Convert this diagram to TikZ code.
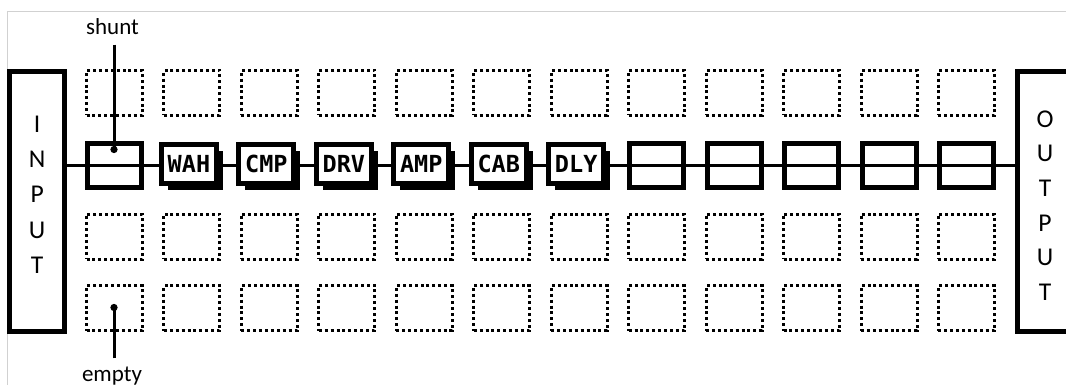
\documentclass[tikz,border=0pt]{standalone}
\usepackage{fontspec}
\newfontfamily\lblfont{Carlito}
\newfontfamily\pixfont{DejaVu Sans Mono}
\usetikzlibrary{arrows.meta,shadows}
\tikzset{
  slot/.style={draw, line width=3pt, dash pattern=on 3pt off 2.9pt, minimum width=56pt, minimum height=45pt, inner sep=0pt},
  hole/.style={draw, line width=5pt, minimum width=54pt, minimum height=44pt, inner sep=0pt},
  fx/.style={draw, fill=white, line width=5pt, minimum width=55pt, minimum height=39pt, inner sep=0pt,
    font=\pixfont\bfseries\fontsize{23.5}{23.5}\selectfont,
    drop shadow={shadow xshift=6.5pt, shadow yshift=-6.5pt, fill=black, opacity=1}},
  port/.style={draw, line width=5pt, minimum width=54.7pt, minimum height=260pt, inner sep=0pt},
  ptxt/.style={align=center, inner sep=0pt},
  lbl/.style={font=\lblfont\fontsize{23}{23}\selectfont, inner sep=0pt},
  wire/.style={line width=3.5pt},
  ptr/.style={line width=3pt, -{Circle[length=7pt]}},
  frame/.style={draw=black!18, line width=1pt}
}
\begin{document}
\begin{tikzpicture}[x=1pt, y=-1pt]
  \useasboundingbox (0,0) rectangle (1066,385);
  \clip (0,0) rectangle (1066,385);
  \draw[frame] (7,385) -- (7,12) -- (1066,12);
  \node[port] (in) at (37.15,201.5) {};
  \node[port] (out) at (1044.85,201.1) {};
  \node[ptxt, font=\lblfont\fontsize{25.6}{35.3}\selectfont] (intxt) at (37.15,194.5) {I\\N\\P\\U\\T};
  \node[ptxt, font=\lblfont\fontsize{25.6}{34.6}\selectfont] (outtxt) at (1045,205.5) {O\\U\\T\\P\\U\\T};
  \foreach \r/\y in {1/93, 3/236.5, 4/308}
    \foreach \c in {0,...,11}
      \node[slot] (s\r\c) at ({114.5+77.45*\c},\y) {};
  \node[hole] (sh) at (114.5,165.5) {};
  \draw[wire] (in.east |- sh) -- (out.west |- sh);
  \node[hole] (e7) at (656.65,165.5) {};
  \node[hole] (e8) at (734.1,165.5) {};
  \node[hole] (e9) at (811.55,165.5) {};
  \node[hole] (e10) at (889,165.5) {};
  \node[hole] (e11) at (966.45,165.5) {};
  \node[fx] (wah) at (188.95,164) {WAH};
  \node[fx] (cmp) at (266.4,164) {CMP};
  \node[fx] (drv) at (343.85,164) {DRV};
  \node[fx] (amp) at (421.3,164) {AMP};
  \node[fx] (cab) at (498.75,164) {CAB};
  \node[fx] (dly) at (576.2,164) {DLY};
  \node[lbl, anchor=base] (shl) at (112.5,34.3) {shunt};
  \coordinate (shd) at (114,153);
  \draw[ptr, shorten <=10pt] (shl.south -| shd) -- (shd);
  \node[lbl, anchor=base] (eml) at (112,381) {empty};
  \coordinate (emd) at (114,304);
  \draw[ptr, shorten <=8pt] (eml.north -| emd) -- (emd);
\end{tikzpicture}
\end{document}
